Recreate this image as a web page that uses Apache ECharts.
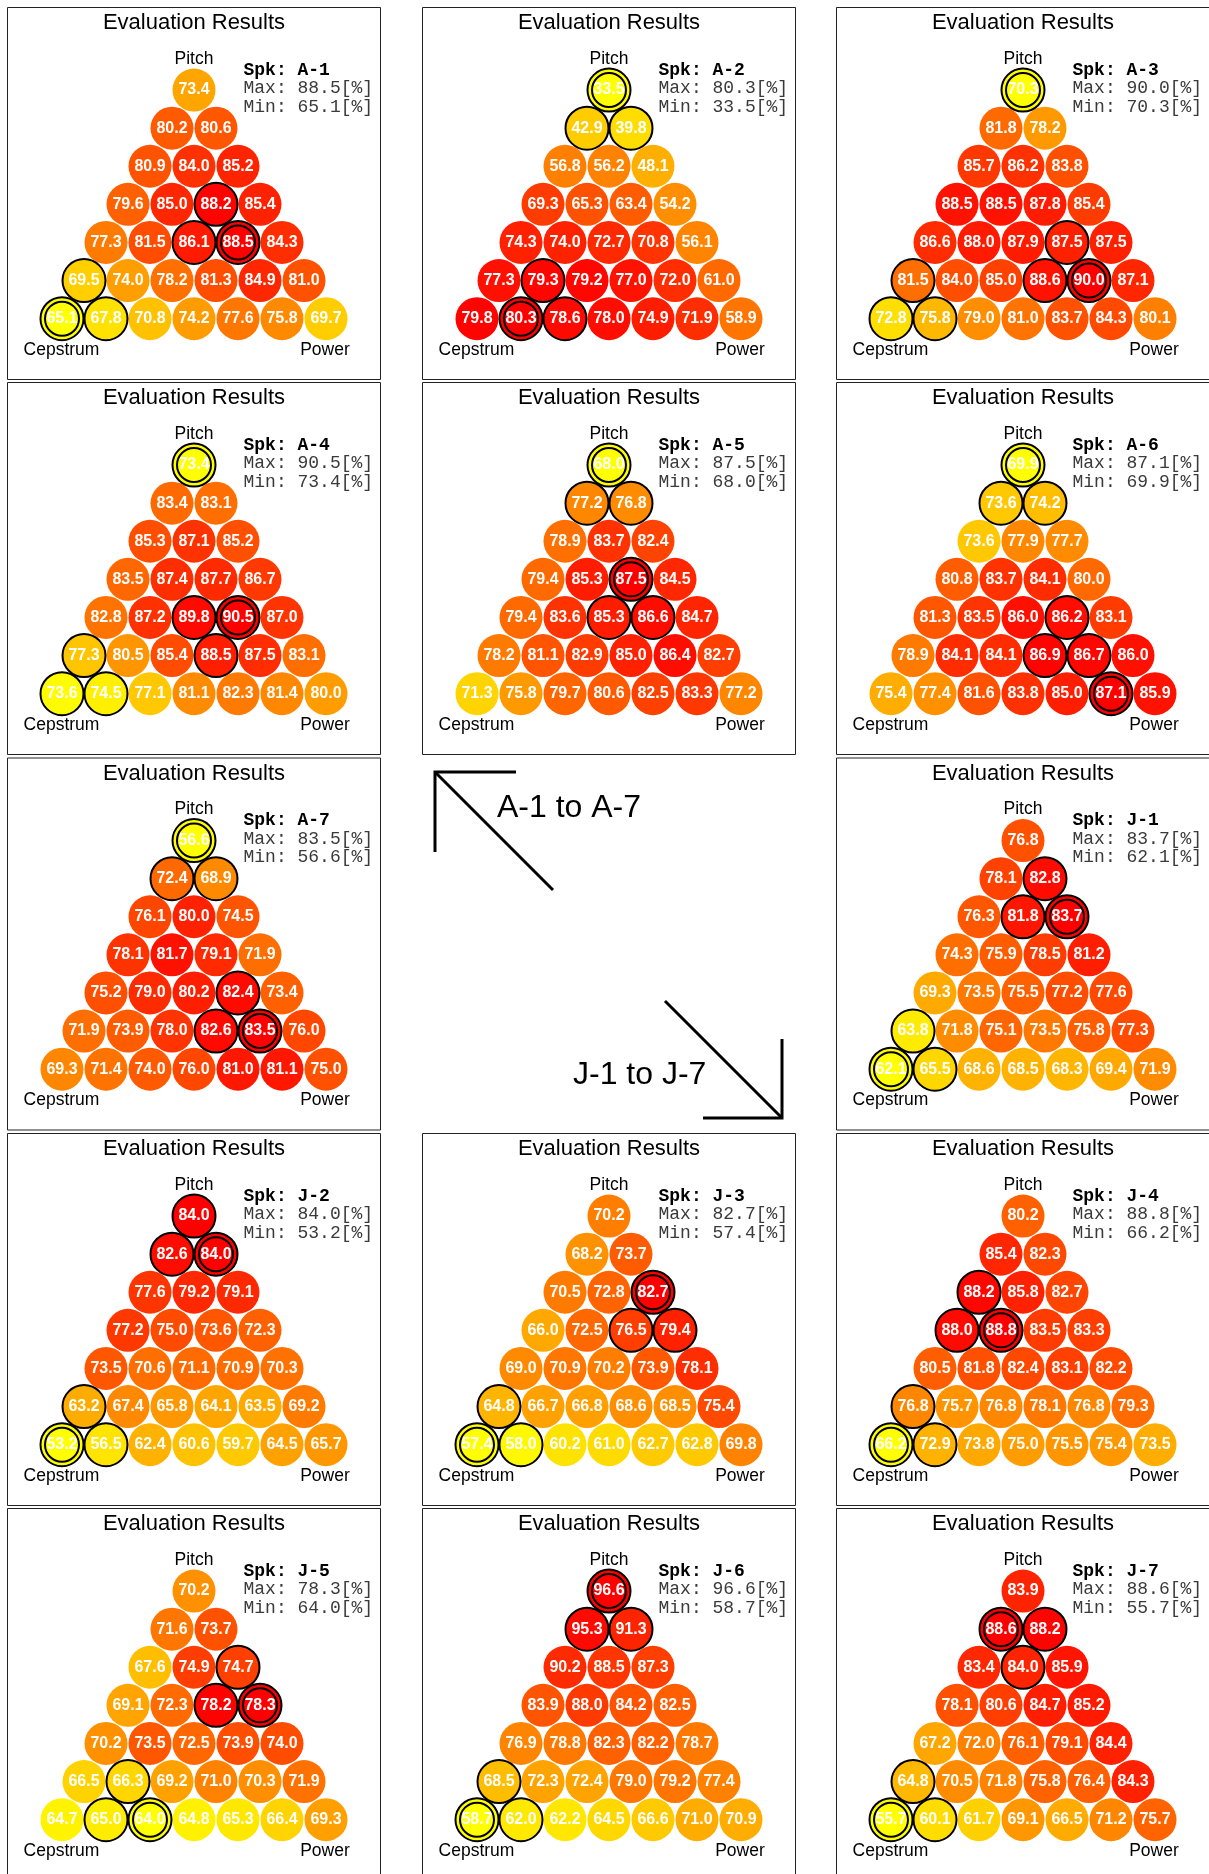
<!DOCTYPE html>
<html>
<head>
<meta charset="utf-8">
<title>Evaluation Results</title>
<script src="https://cdn.jsdelivr.net/npm/echarts@6/dist/echarts.min.js"></script>
<style>
  html, body { margin: 0; padding: 0; background: #fff; }
  #chart { width: 1209px; height: 1874px; }
</style>
</head>
<body>
<div id="chart"></div>
<script>
// speakers, in the order the panels are read
const speakers = ["A-1", "A-2", "A-3", "A-4", "A-5", "A-6", "A-7", "J-1", "J-2", "J-3", "J-4", "J-5", "J-6", "J-7"];
const cornerNames = ["Pitch", "Cepstrum", "Power"];

// scores [%], row by row from the Pitch corner down to the Cepstrum..Power side
const scoreA1 = [73.4, 80.2, 80.6, 80.9, 84.0, 85.2, 79.6, 85.0, 88.2, 85.4, 77.3, 81.5, 86.1, 88.5, 84.3, 69.5, 74.0, 78.2, 81.3, 84.9, 81.0, 65.1, 67.8, 70.8, 74.2, 77.6, 75.8, 69.7];
const scoreA2 = [33.5, 42.9, 39.8, 56.8, 56.2, 48.1, 69.3, 65.3, 63.4, 54.2, 74.3, 74.0, 72.7, 70.8, 56.1, 77.3, 79.3, 79.2, 77.0, 72.0, 61.0, 79.8, 80.3, 78.6, 78.0, 74.9, 71.9, 58.9];
const scoreA3 = [70.3, 81.8, 78.2, 85.7, 86.2, 83.8, 88.5, 88.5, 87.8, 85.4, 86.6, 88.0, 87.9, 87.5, 87.5, 81.5, 84.0, 85.0, 88.6, 90.0, 87.1, 72.8, 75.8, 79.0, 81.0, 83.7, 84.3, 80.1];
const scoreA4 = [73.4, 83.4, 83.1, 85.3, 87.1, 85.2, 83.5, 87.4, 87.7, 86.7, 82.8, 87.2, 89.8, 90.5, 87.0, 77.3, 80.5, 85.4, 88.5, 87.5, 83.1, 73.6, 74.5, 77.1, 81.1, 82.3, 81.4, 80.0];
const scoreA5 = [68.0, 77.2, 76.8, 78.9, 83.7, 82.4, 79.4, 85.3, 87.5, 84.5, 79.4, 83.6, 85.3, 86.6, 84.7, 78.2, 81.1, 82.9, 85.0, 86.4, 82.7, 71.3, 75.8, 79.7, 80.6, 82.5, 83.3, 77.2];
const scoreA6 = [69.9, 73.6, 74.2, 73.6, 77.9, 77.7, 80.8, 83.7, 84.1, 80.0, 81.3, 83.5, 86.0, 86.2, 83.1, 78.9, 84.1, 84.1, 86.9, 86.7, 86.0, 75.4, 77.4, 81.6, 83.8, 85.0, 87.1, 85.9];
const scoreA7 = [56.6, 72.4, 68.9, 76.1, 80.0, 74.5, 78.1, 81.7, 79.1, 71.9, 75.2, 79.0, 80.2, 82.4, 73.4, 71.9, 73.9, 78.0, 82.6, 83.5, 76.0, 69.3, 71.4, 74.0, 76.0, 81.0, 81.1, 75.0];
const scoreJ1 = [76.8, 78.1, 82.8, 76.3, 81.8, 83.7, 74.3, 75.9, 78.5, 81.2, 69.3, 73.5, 75.5, 77.2, 77.6, 63.8, 71.8, 75.1, 73.5, 75.8, 77.3, 62.1, 65.5, 68.6, 68.5, 68.3, 69.4, 71.9];
const scoreJ2 = [84.0, 82.6, 84.0, 77.6, 79.2, 79.1, 77.2, 75.0, 73.6, 72.3, 73.5, 70.6, 71.1, 70.9, 70.3, 63.2, 67.4, 65.8, 64.1, 63.5, 69.2, 53.2, 56.5, 62.4, 60.6, 59.7, 64.5, 65.7];
const scoreJ3 = [70.2, 68.2, 73.7, 70.5, 72.8, 82.7, 66.0, 72.5, 76.5, 79.4, 69.0, 70.9, 70.2, 73.9, 78.1, 64.8, 66.7, 66.8, 68.6, 68.5, 75.4, 57.4, 58.0, 60.2, 61.0, 62.7, 62.8, 69.8];
const scoreJ4 = [80.2, 85.4, 82.3, 88.2, 85.8, 82.7, 88.0, 88.8, 83.5, 83.3, 80.5, 81.8, 82.4, 83.1, 82.2, 76.8, 75.7, 76.8, 78.1, 76.8, 79.3, 66.2, 72.9, 73.8, 75.0, 75.5, 75.4, 73.5];
const scoreJ5 = [70.2, 71.6, 73.7, 67.6, 74.9, 74.7, 69.1, 72.3, 78.2, 78.3, 70.2, 73.5, 72.5, 73.9, 74.0, 66.5, 66.3, 69.2, 71.0, 70.3, 71.9, 64.7, 65.0, 64.0, 64.8, 65.3, 66.4, 69.3];
const scoreJ6 = [96.6, 95.3, 91.3, 90.2, 88.5, 87.3, 83.9, 88.0, 84.2, 82.5, 76.9, 78.8, 82.3, 82.2, 78.7, 68.5, 72.3, 72.4, 79.0, 79.2, 77.4, 58.7, 62.0, 62.2, 64.5, 66.6, 71.0, 70.9];
const scoreJ7 = [83.9, 88.6, 88.2, 83.4, 84.0, 85.9, 78.1, 80.6, 84.7, 85.2, 67.2, 72.0, 76.1, 79.1, 84.4, 64.8, 70.5, 71.8, 75.8, 76.4, 84.3, 55.7, 60.1, 61.7, 69.1, 66.5, 71.2, 75.7];

// circled cells: [row, col, 1 = single ring, 2 = double ring]
const ringA1 = [[3, 2, 1], [4, 2, 1], [4, 3, 2], [5, 0, 1], [6, 0, 2], [6, 1, 1]];
const ringA2 = [[0, 0, 2], [1, 0, 1], [1, 1, 1], [5, 1, 1], [6, 1, 2], [6, 2, 1]];
const ringA3 = [[0, 0, 2], [4, 3, 1], [5, 0, 1], [5, 3, 1], [5, 4, 2], [6, 0, 1], [6, 1, 1]];
const ringA4 = [[0, 0, 2], [4, 2, 1], [4, 3, 2], [5, 0, 1], [5, 3, 1], [6, 0, 1], [6, 1, 1]];
const ringA5 = [[0, 0, 2], [1, 0, 1], [1, 1, 1], [3, 2, 2], [4, 2, 1], [4, 3, 1]];
const ringA6 = [[0, 0, 2], [1, 0, 1], [1, 1, 1], [4, 3, 1], [5, 3, 1], [5, 4, 1], [6, 5, 2]];
const ringA7 = [[0, 0, 2], [1, 0, 1], [1, 1, 1], [4, 3, 1], [5, 3, 1], [5, 4, 2]];
const ringJ1 = [[1, 1, 1], [2, 1, 1], [2, 2, 2], [5, 0, 1], [6, 0, 2], [6, 1, 1]];
const ringJ2 = [[0, 0, 1], [1, 0, 1], [1, 1, 2], [5, 0, 1], [6, 0, 2], [6, 1, 1]];
const ringJ3 = [[2, 2, 2], [3, 2, 1], [3, 3, 1], [5, 0, 1], [6, 0, 2], [6, 1, 1]];
const ringJ4 = [[2, 0, 1], [3, 0, 1], [3, 1, 2], [5, 0, 1], [6, 0, 2], [6, 1, 1]];
const ringJ5 = [[2, 2, 1], [3, 2, 1], [3, 3, 2], [5, 1, 1], [6, 1, 1], [6, 2, 2]];
const ringJ6 = [[0, 0, 2], [1, 0, 1], [1, 1, 1], [5, 0, 1], [6, 0, 2], [6, 1, 1]];
const ringJ7 = [[1, 0, 2], [1, 1, 1], [2, 1, 1], [5, 0, 1], [6, 0, 2], [6, 1, 1]];

const scoreLists = [scoreA1, scoreA2, scoreA3, scoreA4, scoreA5, scoreA6, scoreA7, scoreJ1, scoreJ2, scoreJ3, scoreJ4, scoreJ5, scoreJ6, scoreJ7];
const ringLists = [ringA1, ringA2, ringA3, ringA4, ringA5, ringA6, ringA7, ringJ1, ringJ2, ringJ3, ringJ4, ringJ5, ringJ6, ringJ7];

const chart = echarts.init(document.getElementById("chart"));

// panel layout: 3 columns x 5 rows, slot 7 holds the arrows
const colLeft = [7, 422, 836];
const rowTop = [7, 382, 757.5, 1133, 1508];
const slots = [0, 1, 2, 3, 4, 5, 6, 8, 9, 10, 11, 12, 13, 14];
const panelW = 373, panelH = 372;
const sans = '"Liberation Sans", Arial, Helvetica, sans-serif';
const mono = '"Courier New", "Liberation Mono", monospace';

// flat index -> [row, col] of the triangle
function cellOf(i) {
  let r = 0;
  while ((r + 1) * (r + 2) / 2 <= i) r++;
  return [r, i - r * (r + 1) / 2];
}

const grid = [], xAxis = [], yAxis = [], series = [], visualMap = [], graphic = [];
const ringStyle = { color: "rgba(0,0,0,0)", borderColor: "#000", borderWidth: 2, opacity: 1 };

speakers.forEach((spk, k) => {
  const px = colLeft[slots[k] % 3];
  const py = rowTop[Math.floor(slots[k] / 3)];
  const vals = scoreLists[k];
  const rings = ringLists[k];
  const vMax = Math.max(...vals), vMin = Math.min(...vals);

  grid.push({ left: px + 33, top: py + 64, width: 308, height: 266.7, outerBoundsMode: "none" });
  xAxis.push({ gridIndex: k, type: "value", min: -3.5, max: 3.5, show: false });
  yAxis.push({ gridIndex: k, type: "value", min: -0.5, max: 6.5, inverse: true, show: false });

  // colour runs from yellow (worst) to red (best) inside each panel
  visualMap.push({
    type: "continuous", show: false, seriesIndex: series.length, dimension: 2,
    min: vMin, max: vMax,
    inRange: { color: ["#ffff00", "#ff0000"] },
  });

  series.push({
    type: "scatter", xAxisIndex: k, yAxisIndex: k, clip: false, silent: true, z: 2,
    symbol: "circle", symbolSize: 43,
    itemStyle: { opacity: 1 },
    data: vals.map((v, i) => {
      const [r, c] = cellOf(i);
      return [c - r / 2, r, v];
    }),
    label: {
      show: true, position: "inside", color: "#fff", fontWeight: "bold",
      fontSize: 16, fontFamily: sans,
      formatter: (p) => p.value[2].toFixed(1),
    },
  });
  // outer rings
  series.push({
    type: "scatter", xAxisIndex: k, yAxisIndex: k, clip: false, silent: true, z: 3,
    symbol: "circle", symbolSize: 43,
    data: rings.map(([r, c]) => [c - r / 2, r]),
    itemStyle: ringStyle,
  });
  // inner rings of the double-circled cells
  series.push({
    type: "scatter", xAxisIndex: k, yAxisIndex: k, clip: false, silent: true, z: 3,
    symbol: "circle", symbolSize: 34,
    data: rings.filter((d) => d[2] === 2).map(([r, c]) => [c - r / 2, r]),
    itemStyle: ringStyle,
  });

  // frame and texts
  graphic.push({
    type: "rect", silent: true,
    shape: { x: px + 0.5, y: py + 0.5, width: panelW, height: panelH },
    style: { fill: "none", stroke: "#222", lineWidth: 1 },
  });
  graphic.push({
    type: "text", x: px + 187, y: py + 16, silent: true,
    style: { text: "Evaluation Results", font: "22px " + sans, fill: "#000", align: "center", verticalAlign: "middle" },
  });
  graphic.push({
    type: "text", x: px + 187, y: py + 52, silent: true,
    style: { text: cornerNames[0], font: "17.5px " + sans, fill: "#000", align: "center", verticalAlign: "middle" },
  });
  graphic.push({
    type: "text", x: px + 54.5, y: py + 343, silent: true,
    style: { text: cornerNames[1], font: "17.5px " + sans, fill: "#000", align: "center", verticalAlign: "middle" },
  });
  graphic.push({
    type: "text", x: px + 318, y: py + 343, silent: true,
    style: { text: cornerNames[2], font: "17.5px " + sans, fill: "#000", align: "center", verticalAlign: "middle" },
  });
  graphic.push({
    type: "text", x: px + 236.5, y: py + 63, silent: true,
    style: { text: "Spk: " + spk, font: "bold 18px " + mono, fill: "#000", align: "left", verticalAlign: "middle" },
  });
  graphic.push({
    type: "text", x: px + 236.5, y: py + 81.5, silent: true,
    style: { text: "Max: " + vMax.toFixed(1) + "[%]", font: "18px " + mono, fill: "#3a3a3a", align: "left", verticalAlign: "middle" },
  });
  graphic.push({
    type: "text", x: px + 236.5, y: py + 100, silent: true,
    style: { text: "Min: " + vMin.toFixed(1) + "[%]", font: "18px " + mono, fill: "#3a3a3a", align: "left", verticalAlign: "middle" },
  });
});

// reading-order arrows in the empty slot
const arrowStyle = { stroke: "#000", lineWidth: 3, fill: "none" };
graphic.push(
  { type: "line", silent: true, shape: { x1: 553, y1: 890, x2: 435, y2: 772 }, style: arrowStyle },
  { type: "polyline", silent: true, shape: { points: [[516, 772], [435, 772], [435, 852]] }, style: arrowStyle },
  { type: "text", x: 497, y: 808, silent: true,
    style: { text: "A-1 to A-7", font: "32px " + sans, fill: "#000", align: "left", verticalAlign: "middle" } },
  { type: "line", silent: true, shape: { x1: 665, y1: 1001, x2: 782, y2: 1118 }, style: arrowStyle },
  { type: "polyline", silent: true, shape: { points: [[703, 1118], [782, 1118], [782, 1039]] }, style: arrowStyle },
  { type: "text", x: 573, y: 1075, silent: true,
    style: { text: "J-1 to J-7", font: "32px " + sans, fill: "#000", align: "left", verticalAlign: "middle" } }
);

chart.setOption({
  backgroundColor: "#fff",
  animation: false,
  grid: grid,
  xAxis: xAxis,
  yAxis: yAxis,
  visualMap: visualMap,
  series: series,
  graphic: graphic,
});

window.addEventListener("resize", function () {
  chart.resize();
});
</script>
</body>
</html>
